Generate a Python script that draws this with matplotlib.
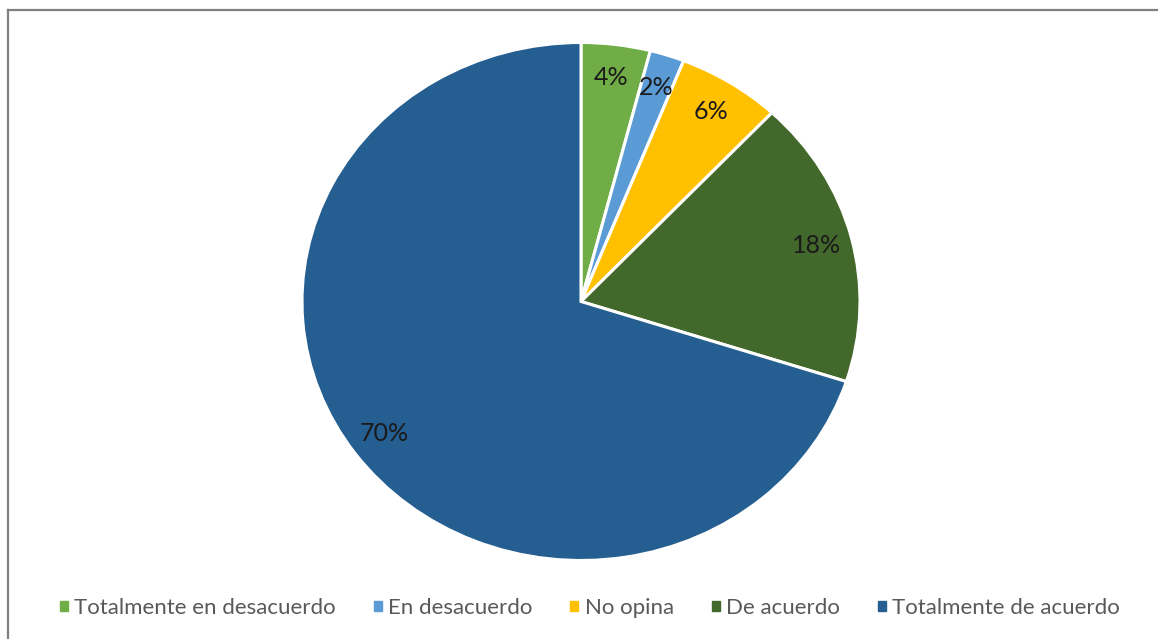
import matplotlib
matplotlib.use('Agg')
import matplotlib.pyplot as plt
import matplotlib.patches as mpatches
from matplotlib.lines import Line2D

# Encuesta: nivel de acuerdo (porcentajes)
categorias = ['Totalmente en desacuerdo', 'En desacuerdo', 'No opina',
              'De acuerdo', 'Totalmente de acuerdo']
valores = [4, 2, 6, 18, 70]
colores = ['#70AD47', '#5B9BD5', '#FFC000', '#43682B', '#255E91']

plt.rcParams['font.family'] = ['Lato', 'DejaVu Sans']

W, H = 1158, 639
fig = plt.figure(figsize=(W / 100, H / 100), dpi=100)

# marco gris (solo arriba e izquierda visibles en la captura)
fig.add_artist(Line2D([8 / W, 8 / W], [0, 1 - 10 / H],
                      transform=fig.transFigure, color='#808080', lw=1.6))
fig.add_artist(Line2D([8 / W, 1], [1 - 10 / H, 1 - 10 / H],
                      transform=fig.transFigure, color='#808080', lw=1.6))

# ── pie (la captura esta estirada en horizontal) ─────────
cx, cy, rx, ry = 581, 301.5, 279, 259
ax = fig.add_axes([(cx - rx) / W, (H - cy - ry) / H, 2 * rx / W, 2 * ry / H])
wedges, textos, autotextos = ax.pie(
    valores, colors=colores, startangle=90, counterclock=False,
    autopct='%1.0f%%', pctdistance=0.87,
    wedgeprops=dict(edgecolor='white', linewidth=2.2),
    textprops=dict(fontsize=18, color='#1a1a1a'))
ax.set_xlim(-1, 1)
ax.set_ylim(-1, 1)
ax.set_aspect('auto')

# ── legend ────────────────────────────────────────────
handles = [mpatches.Patch(color=c, label=l) for c, l in zip(colores, categorias)]
fig.legend(handles=handles, loc='center', bbox_to_anchor=(590 / W, 1 - 608 / H),
           ncol=5, frameon=False, fontsize=16, labelcolor='#595959',
           handlelength=0.35, handleheight=0.35, handletextpad=0.3,
           columnspacing=1.7)

fig.savefig('out.png', dpi=100)
